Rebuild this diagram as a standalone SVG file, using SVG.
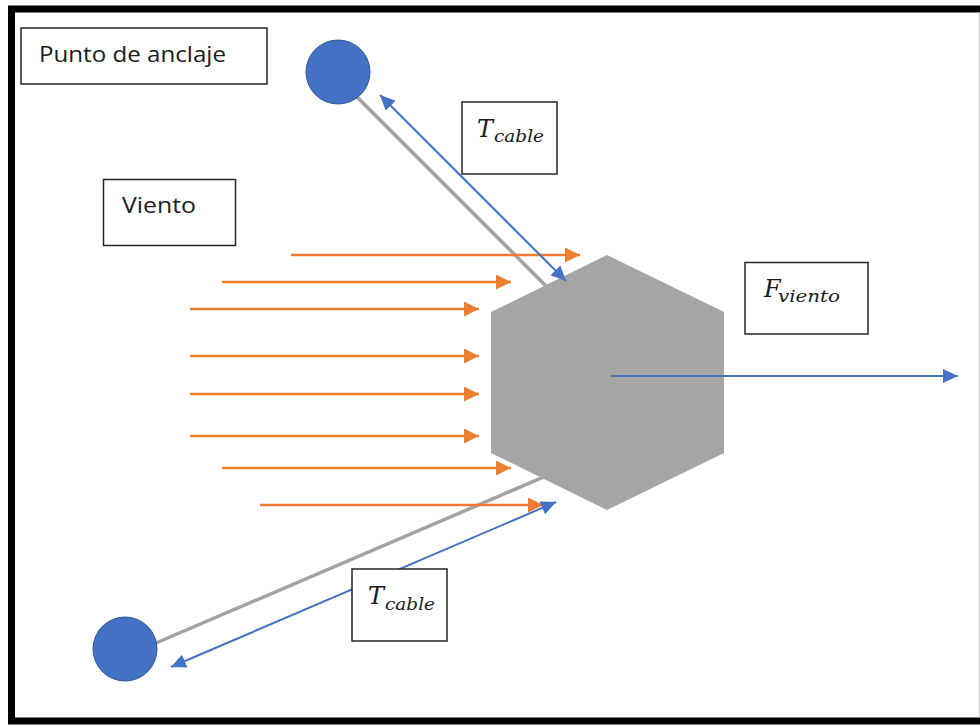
<svg xmlns="http://www.w3.org/2000/svg" width="980" height="726" viewBox="0 0 980 726">
<style>
.box{fill:#ffffff;stroke:#262626;stroke-width:1.5}
.lbl{font-family:"Open Sans","Liberation Sans",sans-serif;font-size:22px;fill:#1a1a1a}
.math{font-family:"DejaVu Serif","Liberation Serif",serif;font-style:italic;fill:#1a1a1a}
.wind{stroke:#ed7d31;stroke-width:2.5;fill:none;marker-end:url(#ho)}
.force{stroke:#4472c4;stroke-width:2;fill:none}
.cable{stroke:#a3a3a3;stroke-width:3.5;fill:none}
.anchor{fill:#4472c4;stroke:#2f5597;stroke-width:1}
</style>
<defs>
<marker id="ho" markerUnits="userSpaceOnUse" markerWidth="15" markerHeight="15" refX="15" refY="7.5" orient="auto" viewBox="0 0 15 15">
<path d="M0,0 L15,7.5 L0,15 z" fill="#ed7d31"/>
</marker>
<marker id="hb" markerUnits="userSpaceOnUse" markerWidth="15" markerHeight="14" refX="15" refY="7" orient="auto-start-reverse" viewBox="0 0 15 14">
<path d="M0,0 L15,7 L0,14 z" fill="#4472c4"/>
</marker>
</defs>
<rect x="0" y="0" width="980" height="726" fill="#ffffff"/>
<rect x="11.5" y="9" width="1000" height="712" fill="#ffffff" stroke="#000000" stroke-width="7"/>
<line x1="979.5" y1="12.5" x2="979.5" y2="717.5" stroke="#c8c8c8" stroke-width="1"/>

<g id="connectors">
<line class="cable" x1="354" y1="94" x2="560" y2="300"/>
<line class="cable" x1="156" y1="643" x2="560" y2="470"/>
</g>

<g id="hexagon">
<polygon points="607,255 724,312 724,453 607,510 491,453 491,312" fill="#a5a5a5"/>
</g>

<g id="wind-arrows">
<line class="wind" x1="291" y1="255" x2="580" y2="255"/>
<line class="wind" x1="222" y1="282" x2="511" y2="282"/>
<line class="wind" x1="190" y1="309" x2="479" y2="309"/>
<line class="wind" x1="190" y1="356" x2="479" y2="356"/>
<line class="wind" x1="190" y1="394" x2="479" y2="394"/>
<line class="wind" x1="190" y1="436" x2="479" y2="436"/>
<line class="wind" x1="222" y1="468" x2="511" y2="468"/>
<line class="wind" x1="260" y1="505" x2="543" y2="505"/>
</g>

<g id="force-arrows">
<line class="force" x1="380" y1="95" x2="566" y2="281" marker-start="url(#hb)" marker-end="url(#hb)"/>
<line class="force" x1="171" y1="667" x2="556" y2="502" marker-start="url(#hb)" marker-end="url(#hb)"/>
<line class="force" x1="611" y1="376" x2="958" y2="376" marker-end="url(#hb)"/>
</g>

<g id="anchor-top">
<circle class="anchor" cx="338" cy="72" r="32"/>
</g>
<g id="anchor-bottom">
<circle class="anchor" cx="125" cy="649" r="32"/>
</g>

<g id="label-punto">
<rect class="box" x="21" y="28" width="246" height="56"/>
<text class="lbl" x="39" y="62" textLength="187" lengthAdjust="spacingAndGlyphs">Punto de anclaje</text>
</g>

<g id="label-viento">
<rect class="box" x="103.5" y="179.5" width="132" height="66"/>
<text class="lbl" x="122" y="213" textLength="74" lengthAdjust="spacingAndGlyphs">Viento</text>
</g>

<g id="label-tcable-top">
<rect class="box" x="462" y="102" width="95" height="72"/>
<text class="math" x="477" y="137" font-size="24">T</text>
<text class="math" x="494" y="142" font-size="16" textLength="50" lengthAdjust="spacingAndGlyphs">cable</text>
</g>

<g id="label-fviento">
<rect class="box" x="745" y="262.5" width="123" height="71.5"/>
<text class="math" x="764" y="297" font-size="24">F</text>
<text class="math" x="778" y="302" font-size="16" textLength="62" lengthAdjust="spacingAndGlyphs">viento</text>
</g>

<g id="label-tcable-bottom">
<rect class="box" x="352" y="569" width="95" height="72"/>
<text class="math" x="368" y="604" font-size="24">T</text>
<text class="math" x="385" y="610" font-size="16" textLength="50" lengthAdjust="spacingAndGlyphs">cable</text>
</g>
</svg>
